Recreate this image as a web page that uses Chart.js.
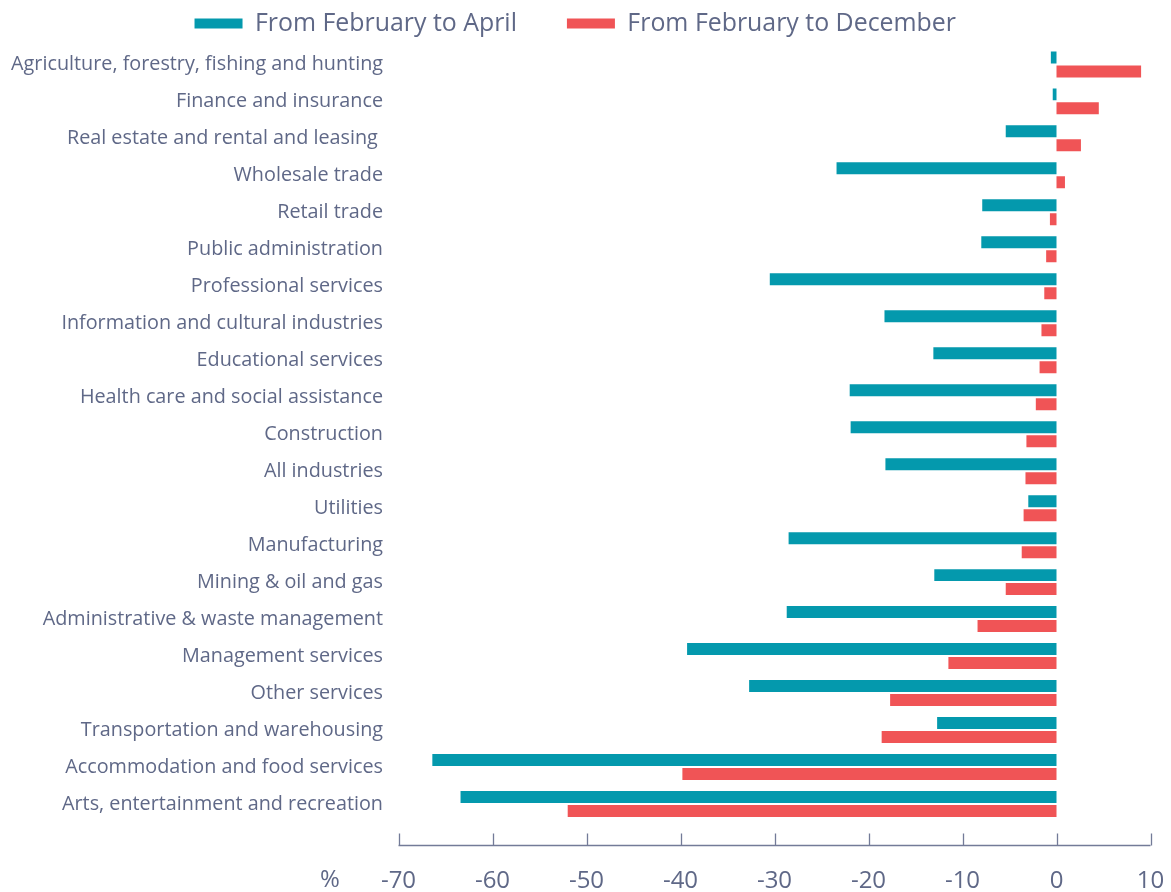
<!DOCTYPE html>
<html>
<head>
<meta charset="utf-8">
<script src="https://cdn.jsdelivr.net/npm/chart.js@4.4.1/dist/chart.umd.min.js"></script>
<style>
html,body{margin:0;padding:0;background:#fff;}
#wrap{width:1171px;height:892px;position:relative;}
</style>
</head>
<body>
<div id="wrap"><canvas id="c" width="1171" height="892"></canvas></div>
<script>
const categories = [
  "Agriculture, forestry, fishing and hunting",
  "Finance and insurance",
  "Real estate and rental and leasing ",
  "Wholesale trade",
  "Retail trade",
  "Public administration",
  "Professional services",
  "Information and cultural industries",
  "Educational services",
  "Health care and social assistance",
  "Construction",
  "All industries",
  "Utilities",
  "Manufacturing",
  "Mining & oil and gas",
  "Administrative & waste management",
  "Management services",
  "Other services",
  "Transportation and warehousing",
  "Accommodation and food services",
  "Arts, entertainment and recreation"
];
const febToApril = [-0.6, -0.4, -5.4, -23.4, -7.9, -8.0, -30.5, -18.3, -13.1, -22.0, -21.9, -18.2, -3.0, -28.5, -13.0, -28.7, -39.3, -32.7, -12.7, -66.4, -63.4];
const febToDecember = [9.0, 4.5, 2.6, 0.9, -0.7, -1.1, -1.3, -1.6, -1.8, -2.2, -3.2, -3.3, -3.5, -3.7, -5.4, -8.4, -11.5, -17.7, -18.6, -39.8, -52.0];
const xTicks = [-70, -60, -50, -40, -30, -20, -10, 0, 10];
const seriesNames = ["From February to April", "From February to December"];
const unitLabel = "%";

const TEXT = '#5f6887';
const FONT = "'Open Sans', Lato, sans-serif";

// choose font sizes so text widths match the reference
const mctx = document.createElement('canvas').getContext('2d');
function fitSize(text, target, family) {
  mctx.font = "100px " + family;
  const w = mctx.measureText(text).width;
  return Math.round(100 * target / w * 10) / 10;
}
const yLabelSize = fitSize(categories[0], 373, FONT);
const legendSize = fitSize(seriesNames[1], 329, FONT);
const xLabelSize = Math.min(24, fitSize("-70", 37, FONT));

const axisPlugin = {
  id: 'axisPlugin',
  afterDraw(chart) {
    const ctx = chart.ctx;
    const xs = chart.scales.x;
    const y = Math.round(chart.chartArea.bottom + 22) + 0.5;
    ctx.save();
    ctx.strokeStyle = '#737b98';
    ctx.lineWidth = 1.3;
    ctx.beginPath();
    ctx.moveTo(xs.getPixelForValue(xTicks[0]), y);
    ctx.lineTo(xs.getPixelForValue(xTicks[xTicks.length - 1]), y);
    xTicks.forEach(v => {
      const px = Math.round(xs.getPixelForValue(v)) + 0.5;
      ctx.moveTo(px, y);
      ctx.lineTo(px, y - 12);
    });
    ctx.stroke();
    ctx.fillStyle = TEXT;
    ctx.font = xLabelSize + "px " + FONT;
    ctx.textAlign = 'center';
    ctx.textBaseline = 'middle';
    ctx.fillText(unitLabel, 330, 880);
    ctx.restore();
  }
};

new Chart(document.getElementById('c'), {
  type: 'bar',
  data: {
    labels: categories,
    datasets: [
      { label: seriesNames[0], data: febToApril, backgroundColor: '#0499ad', borderWidth: 0 },
      { label: seriesNames[1], data: febToDecember, backgroundColor: '#f05456', borderWidth: 0 }
    ]
  },
  options: {
    indexAxis: 'y',
    responsive: false,
    animation: false,
    devicePixelRatio: 1,
    layout: { padding: { left: 0, right: 20.5, top: -39, bottom: 0 } },
    datasets: { bar: { categoryPercentage: 28 / 37, barPercentage: 12 / 14 } },
    plugins: {
      legend: {
        position: 'top',
        labels: {
          boxWidth: 48, boxHeight: 10, padding: 50,
          color: TEXT,
          font: { family: FONT, size: legendSize }
        }
      },
      tooltip: { enabled: false },
      title: { display: false }
    },
    scales: {
      x: {
        min: -70, max: 10,
        afterBuildTicks(scale) { scale.ticks = xTicks.map(v => ({ value: v })); },
        afterFit(scale) { scale.height = 69.5; scale.paddingLeft = 0; scale.paddingRight = 0; },
        grid: { display: false, drawTicks: false },
        border: { display: false },
        ticks: {
          color: TEXT,
          padding: 44,
          font: { family: FONT, size: xLabelSize },
          maxRotation: 0,
          autoSkip: false
        }
      },
      y: {
        afterFit(scale) { scale.width = 398.5; scale.paddingTop = 0; scale.paddingBottom = 0; },
        grid: { display: false, drawTicks: false },
        border: { display: false },
        ticks: {
          color: TEXT,
          padding: 15.5,
          font: { family: FONT, size: yLabelSize },
          autoSkip: false
        }
      }
    }
  },
  plugins: [axisPlugin]
});
</script>
</body>
</html>
